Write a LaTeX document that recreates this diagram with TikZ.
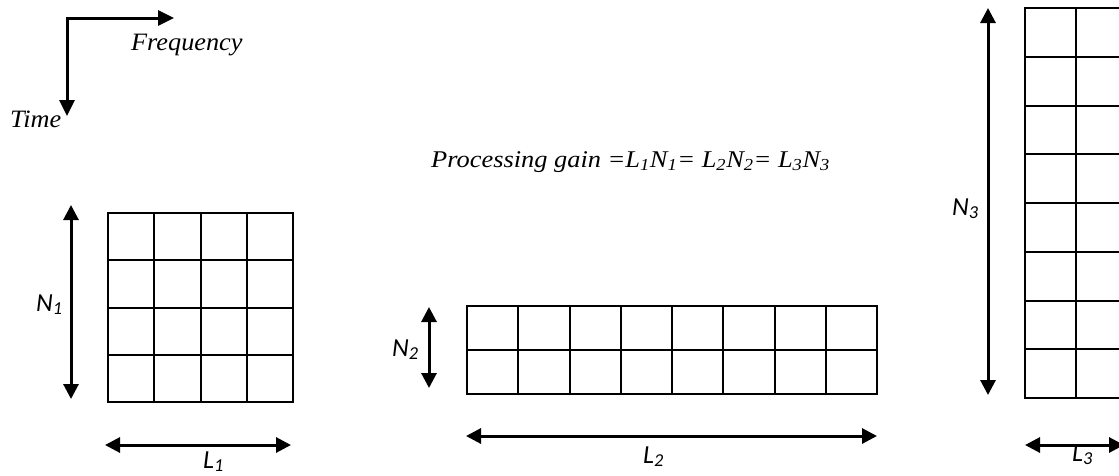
\documentclass[tikz,border=0pt]{standalone}
\usepackage{fontspec}
\setmainfont{Liberation Serif}
\newfontfamily\calib{Carlito}
\usetikzlibrary{arrows.meta}
\begin{document}
\begin{tikzpicture}[x=1pt,y=-1pt,
  gridline/.style={line width=2pt, line cap=rect},
  dimarrow/.style={line width=3pt, {Triangle[width=15pt,length=15pt]}-{Triangle[width=15pt,length=15pt]}},
  axarrow/.style={line width=3pt, line join=miter, {Triangle[width=15pt,length=16pt]}-{Triangle[width=15pt,length=16pt]}},
  lbl/.style={font=\calib\itshape\fontsize{26}{30}\selectfont, inner sep=0pt, anchor=base west},
  serif/.style={font=\itshape\fontsize{25}{29}\selectfont, inner sep=0pt, anchor=base west}]

\useasboundingbox (0,0) rectangle (1119,475);
\fill[white] (0,0) rectangle (1119,475);
\clip (0,0) rectangle (1119,475);

% axes
\coordinate (corner) at (67,18);
\coordinate (ftip) at (174,18);
\coordinate (ttip) at (67,116);
\draw[axarrow] (ttip) -- (corner) -- (ftip);
\node[serif] (freq) at (131,50) {\scalebox{1.05}[1]{Frequency}};
\node[serif] (time) at (10,127) {\scalebox{1.05}[1]{Time}};

% formula
\node[serif, font=\itshape\fontsize{24}{28}\selectfont] (gain) at (431,167)
  {\scalebox{1.1}[1]{Processing gain =L\textsubscript{1}N\textsubscript{1}= L\textsubscript{2}N\textsubscript{2}= L\textsubscript{3}N\textsubscript{3}}};

% grid 1 : 4 x 4
\coordinate (g1nw) at (108,213);
\coordinate (g1se) at (293,402);
\draw[gridline] (g1nw) rectangle (g1se);
\foreach \i in {1,2,3} {
  \draw[gridline] ({108+\i*46.25},213) -- ({108+\i*46.25},402);
  \draw[gridline] (108,{213+\i*47.25}) -- (293,{213+\i*47.25});
}
\coordinate (n1t) at (71,205);
\coordinate (n1b) at (71,399);
\draw[dimarrow] (n1t) -- (n1b);
\node[lbl] (N1) at (36,311) {N\textsubscript{1}};
\coordinate (l1l) at (105,445);
\coordinate (l1r) at (291,445);
\draw[dimarrow] (l1l) -- (l1r);
\node[lbl] (L1) at (203,468) {L\textsubscript{1}};

% grid 2 : 8 x 2
\coordinate (g2nw) at (467,306);
\coordinate (g2se) at (877,394);
\draw[gridline] (g2nw) rectangle (g2se);
\foreach \i in {1,...,7} {
  \draw[gridline] ({467+\i*51.25},306) -- ({467+\i*51.25},394);
}
\draw[gridline] (467,350) -- (877,350);
\coordinate (n2t) at (429,307);
\coordinate (n2b) at (429,388);
\draw[dimarrow] (n2t) -- (n2b);
\node[lbl] (N2) at (392,356) {N\textsubscript{2}};
\coordinate (l2l) at (466,436);
\coordinate (l2r) at (877,436);
\draw[dimarrow] (l2l) -- (l2r);
\node[lbl] (L2) at (643,463) {L\textsubscript{2}};

% grid 3 : 2 x 8
\coordinate (g3nw) at (1025,8);
\coordinate (g3se) at (1127,398);
\draw[gridline] (g3nw) rectangle (g3se);
\draw[gridline] (1076,8) -- (1076,398);
\foreach \i in {1,...,7} {
  \draw[gridline] (1025,{8+\i*48.75}) -- (1127,{8+\i*48.75});
}
\coordinate (n3t) at (988,8);
\coordinate (n3b) at (988,395);
\draw[dimarrow] (n3t) -- (n3b);
\node[lbl] (N3) at (952,215) {N\textsubscript{3}};
\coordinate (l3l) at (1025,445);
\coordinate (l3r) at (1124,445);
\draw[dimarrow] (l3l) -- (l3r);
\node[lbl] (L3) at (1072,461) {L\textsubscript{3}};
\end{tikzpicture}
\end{document}
